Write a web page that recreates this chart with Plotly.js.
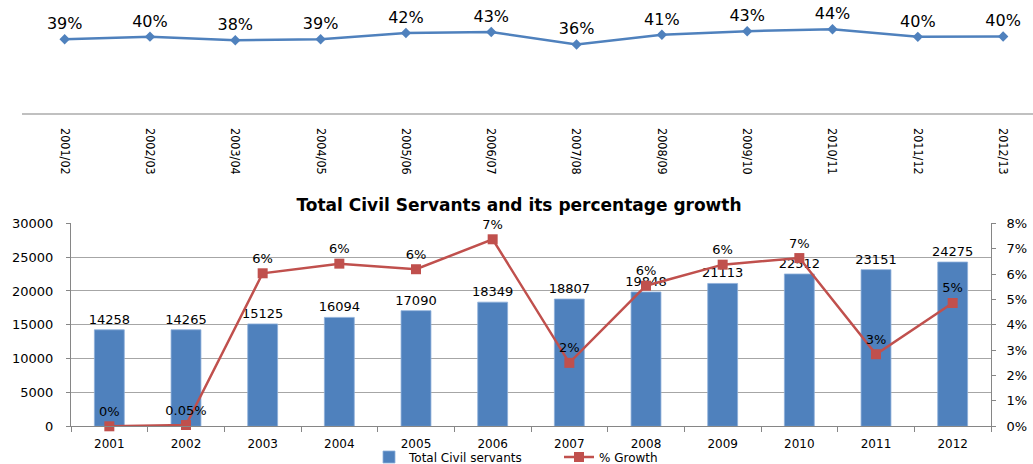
<!DOCTYPE html>
<html>
<head>
<meta charset="utf-8">
<script src="https://cdn.plot.ly/plotly-3.0.1.min.js"></script>
<style>
html,body{margin:0;padding:0;background:#fff;}
#chart{width:1033px;height:464px;}
</style>
</head>
<body>
<div id="chart"></div>
<script>
// ---- Top panel data ----
const periods = ['2001/02','2002/03','2003/04','2004/05','2005/06','2006/07','2007/08','2008/09','2009/10','2010/11','2011/12','2012/13'];
const shareValues = [0.389, 0.403, 0.384, 0.389, 0.422, 0.428, 0.362, 0.413, 0.432, 0.442, 0.402, 0.404];

// ---- Bottom panel data ----
const years = ['2001','2002','2003','2004','2005','2006','2007','2008','2009','2010','2011','2012'];
const civilServants = [14258, 14265, 15125, 16094, 17090, 18349, 18807, 19848, 21113, 22512, 23151, 24275];
const growthValues = [0, 0.0005, 0.0603, 0.0641, 0.0619, 0.0737, 0.0250, 0.0554, 0.0637, 0.0663, 0.0284, 0.0486];
const growthLabels = ['0%','0.05%','6%','6%','6%','7%','2%','6%','6%','7%','3%','5%'];

const W = 1033, H = 464;
const px = v => v / W;
const py = v => (H - v) / H;

const blue = '#4F81BD';
const red = '#C0504D';
const font = 'DejaVu Sans, Verdana, sans-serif';

const traces = [
  {
    x: periods, y: shareValues, xaxis: 'x', yaxis: 'y',
    type: 'scatter', mode: 'lines+markers+text',
    line: {color: blue, width: 2.5},
    marker: {symbol: 'diamond', size: 8, color: blue},
    texttemplate: '%{y:.0%}', textposition: 'top center',
    textfont: {family: font, size: 16, color: '#000'},
    cliponaxis: false, showlegend: false, hoverinfo: 'skip'
  },
  {
    x: years, y: civilServants, xaxis: 'x2', yaxis: 'y2',
    type: 'bar', name: 'Total Civil servants',
    marker: {color: blue, line: {color: '#8EB0DA', width: 0.8}},
    width: 0.39,
    text: civilServants.map(String), textposition: 'outside', constraintext: 'none',
    textfont: {family: font, size: 13, color: '#000'},
    cliponaxis: false, hoverinfo: 'skip'
  },
  {
    x: years, y: growthValues, xaxis: 'x2', yaxis: 'y3',
    type: 'scatter', mode: 'lines+markers+text', name: '% Growth',
    line: {color: red, width: 2.5},
    marker: {symbol: 'square', size: 10, color: red},
    text: growthLabels, textposition: 'top center',
    textfont: {family: font, size: 13, color: '#000'},
    cliponaxis: false, hoverinfo: 'skip'
  }
];

const layout = {
  width: W, height: H,
  margin: {l: 0, r: 0, t: 0, b: 0, autoexpand: false},
  paper_bgcolor: '#fff', plot_bgcolor: 'rgba(0,0,0,0)',
  font: {family: font, size: 13, color: '#000'},
  title: {
    text: '<b>Total Civil Servants and its percentage growth</b>',
    x: px(519), xanchor: 'center', xref: 'paper',
    y: py(205), yanchor: 'middle', yref: 'paper',
    font: {family: font, size: 17, color: '#000'}
  },
  xaxis: {
    domain: [px(22), 1], type: 'category', range: [-0.5, 11.35],
    showline: true, linecolor: '#C0C0C0', linewidth: 1.5,
    showgrid: false, zeroline: false, ticks: '',
    tickangle: 90, ticklabelstandoff: 11,
    tickfont: {family: 'Liberation Sans Narrow, DejaVu Sans Condensed, sans-serif', size: 12.5, color: '#000'},
    anchor: 'y', fixedrange: true
  },
  yaxis: {
    domain: [py(113), py(18.3)], range: [0, 0.5],
    visible: false, showgrid: false, zeroline: false, anchor: 'x', fixedrange: true
  },
  xaxis2: {
    domain: [px(71), px(991)], type: 'category', range: [-0.5, 11.5],
    showline: true, linecolor: '#868686', linewidth: 1,
    ticks: 'outside', tickson: 'boundaries', ticklen: 5, tickcolor: '#868686',
    showgrid: false, zeroline: false, anchor: 'y2', ticklabelstandoff: 6,
    tickfont: {family: font, size: 12, color: '#000'}, fixedrange: true
  },
  yaxis2: {
    domain: [py(426.3), py(223.3)], range: [0, 30000], dtick: 5000, tickformat: 'd',
    showline: true, linecolor: '#868686', linewidth: 1,
    ticks: 'outside', ticklen: 4, tickcolor: '#868686',
    showgrid: true, gridcolor: '#A6A6A6', gridwidth: 1, zeroline: false,
    anchor: 'x2', tickfont: {family: font, size: 13, color: '#000'},
    ticklabelstandoff: 10, fixedrange: true
  },
  yaxis3: {
    domain: [py(426.3), py(223.3)], range: [0, 0.08], dtick: 0.01, tickformat: '.0%',
    overlaying: 'y2', side: 'right', anchor: 'x2',
    showline: true, linecolor: '#868686', linewidth: 1,
    ticks: 'outside', ticklen: 4, tickcolor: '#868686',
    showgrid: false, zeroline: false,
    tickfont: {family: font, size: 13, color: '#000'},
    ticklabelstandoff: 8, fixedrange: true
  },
  showlegend: true,
  legend: {
    orientation: 'h', x: px(369), xanchor: 'left', y: py(457), yanchor: 'middle',
    font: {family: font, size: 12, color: '#000'},
    bgcolor: 'rgba(0,0,0,0)', itemwidth: 30, tracegroupgap: 0, entrywidth: 145
  }
};

Plotly.newPlot('chart', traces, layout, {staticPlot: true, displayModeBar: false});
</script>
</body>
</html>
